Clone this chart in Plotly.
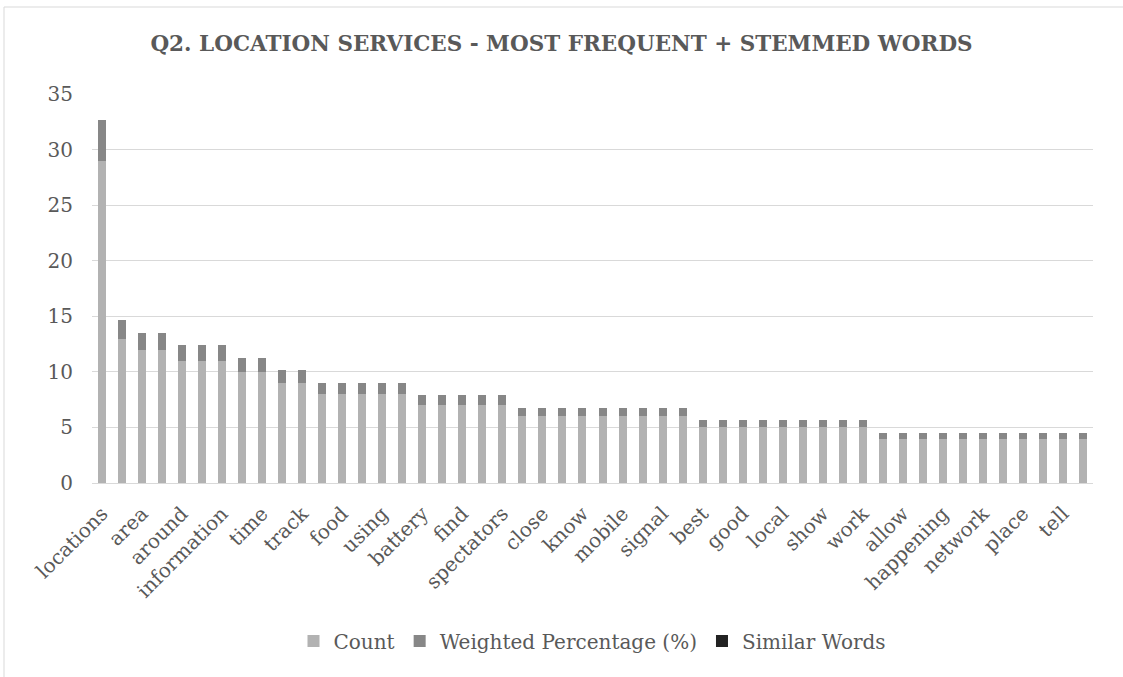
import plotly.graph_objects as go

# Visible category labels (every other bar is labelled in the original)
shown_labels = ["locations", "area", "around", "information", "time", "track", "food",
                "using", "battery", "find", "spectators", "close", "know", "mobile",
                "signal", "best", "good", "local", "show", "work", "allow", "happening",
                "network", "place", "tell"]

count = [29, 13, 12, 12, 11, 11, 11, 10, 10, 9, 9,
         8, 8, 8, 8, 8,
         7, 7, 7, 7, 7,
         6, 6, 6, 6, 6, 6, 6, 6, 6,
         5, 5, 5, 5, 5, 5, 5, 5, 5,
         4, 4, 4, 4, 4, 4, 4, 4, 4, 4, 4]

weighted = [3.70, 1.66, 1.53, 1.53, 1.40, 1.40, 1.40, 1.28, 1.28, 1.15, 1.15,
            1.02, 1.02, 1.02, 1.02, 1.02,
            0.89, 0.89, 0.89, 0.89, 0.89,
            0.77, 0.77, 0.77, 0.77, 0.77, 0.77, 0.77, 0.77, 0.77,
            0.64, 0.64, 0.64, 0.64, 0.64, 0.64, 0.64, 0.64, 0.64,
            0.51, 0.51, 0.51, 0.51, 0.51, 0.51, 0.51, 0.51, 0.51, 0.51, 0.51]

similar = [0] * 50

x_pos = list(range(len(count)))
tick_pos = x_pos[::2]

FONT = "DejaVu Serif"
TXT = "#595959"

fig = go.Figure()
fig.add_bar(x=x_pos, y=count, name="Count", marker=dict(color="#b2b2b2", line_width=0))
fig.add_bar(x=x_pos, y=weighted, name="Weighted Percentage (%)", marker=dict(color="#878787", line_width=0))
fig.add_bar(x=x_pos, y=similar, name="Similar Words", marker=dict(color="#222222", line_width=0))

L, R, T, B = 92, 30, 94, 194
W, H = 1123, 677
pw = W - L - R
ph = H - T - B

fig.update_layout(
    width=W, height=H,
    barmode="stack", bargap=0.6,
    margin=dict(l=L, r=R, t=T, b=B),
    paper_bgcolor="white", plot_bgcolor="white",
    font=dict(family=FONT, color=TXT),
    title=dict(text="<b>Q2. LOCATION SERVICES - MOST FREQUENT + STEMMED WORDS</b>",
               x=0.5, xanchor="center", y=1 - 43 / H, yanchor="middle",
               font=dict(family=FONT, size=21.5, color=TXT)),
    xaxis=dict(tickmode="array", tickvals=tick_pos, ticktext=shown_labels,
               tickangle=-45, tickfont=dict(size=20, color=TXT), ticklabelstandoff=10,
               showgrid=False, showline=True, linecolor="#d9d9d9", linewidth=1,
               range=[-0.5, len(count) - 0.5], ticks=""),
    yaxis=dict(range=[0, 35], dtick=5, showgrid=True, gridcolor="#d9d9d9", gridwidth=1,
               zeroline=False, tickfont=dict(size=20, color=TXT), ticklabelstandoff=18),
    legend=dict(orientation="h", x=0.5, xanchor="center", y=(483 - 641) / ph, yanchor="middle",
                font=dict(size=20, color=TXT), traceorder="normal", itemwidth=30),
    shapes=[dict(type="rect", xref="paper", yref="paper",
                 x0=(4 - L) / pw, x1=(1140 - L) / pw,
                 y0=(H - 700 - B) / ph, y1=(H - 7 - B) / ph,
                 line=dict(color="#d9d9d9", width=1), fillcolor="rgba(0,0,0,0)", layer="below")],
)

fig.write_html("out.html")
